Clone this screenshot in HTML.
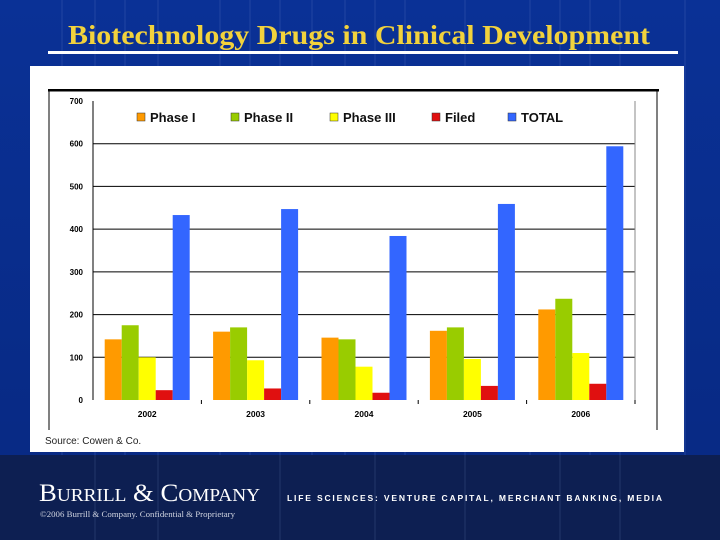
<!DOCTYPE html>
<html><head><meta charset="utf-8"><style>
body{margin:0;width:720px;height:540px;overflow:hidden;background:#0b2f8f;font-family:"Liberation Sans",sans-serif}
#slide{position:relative;width:720px;height:540px;background:linear-gradient(#0a3196,#082a85 80%)}
</style></head><body>
<div id="slide">
<svg width="720" height="540" style="position:absolute;left:0;top:0">
<g stroke="#3a5ab0" stroke-width="1" opacity="0.5">
<line x1="62" y1="0" x2="62" y2="540"/><line x1="95" y1="0" x2="95" y2="540"/><line x1="125" y1="0" x2="125" y2="540"/><line x1="158" y1="0" x2="158" y2="540"/><line x1="220" y1="0" x2="220" y2="540"/><line x1="250" y1="0" x2="250" y2="540"/><line x1="280" y1="0" x2="280" y2="540"/><line x1="312" y1="0" x2="312" y2="540"/><line x1="345" y1="0" x2="345" y2="540"/><line x1="375" y1="0" x2="375" y2="540"/><line x1="405" y1="0" x2="405" y2="540"/><line x1="465" y1="0" x2="465" y2="540"/><line x1="530" y1="0" x2="530" y2="540"/><line x1="560" y1="0" x2="560" y2="540"/><line x1="590" y1="0" x2="590" y2="540"/><line x1="620" y1="0" x2="620" y2="540"/><line x1="685" y1="0" x2="685" y2="540"/>
</g>
<text x="68" y="44" textLength="582" lengthAdjust="spacingAndGlyphs" font-family="Liberation Serif,serif" font-weight="bold" font-size="27" fill="#f2d23c">Biotechnology Drugs in Clinical Development</text>
<rect x="48" y="51" width="630" height="3" fill="#fff"/>
<rect x="30" y="66" width="654" height="386" fill="#fff"/>
<rect x="48" y="89" width="611" height="2.5" fill="#000"/>
<line x1="49" y1="90" x2="49" y2="430" stroke="#000"/>
<line x1="657" y1="90" x2="657" y2="430" stroke="#000"/>
<g id="chart"></g>
<text x="45" y="444" font-size="10" fill="#222">Source:  Cowen &amp; Co.</text>
<rect x="0" y="455" width="720" height="85" fill="#0d1f52"/>
<g stroke="#34487a" stroke-width="1" opacity="0.6"><line x1="95" y1="455" x2="95" y2="540"/><line x1="158" y1="455" x2="158" y2="540"/><line x1="280" y1="455" x2="280" y2="540"/><line x1="375" y1="455" x2="375" y2="540"/><line x1="465" y1="455" x2="465" y2="540"/><line x1="560" y1="455" x2="560" y2="540"/><line x1="620" y1="455" x2="620" y2="540"/></g>
<text x="39" y="501" textLength="221" lengthAdjust="spacingAndGlyphs" font-family="Liberation Serif,serif" font-size="25" fill="#fff">B<tspan font-size="18">URRILL</tspan> &amp; C<tspan font-size="18">OMPANY</tspan></text>
<text x="40" y="517" textLength="195" lengthAdjust="spacingAndGlyphs" font-family="Liberation Serif,serif" font-size="8" fill="#d0d4e0">©2006 Burrill &amp; Company. Confidential &amp; Proprietary</text>
<text x="287" y="501" textLength="375" lengthAdjust="spacing" font-size="8.5" font-weight="bold" fill="#fff">LIFE SCIENCES: VENTURE CAPITAL, MERCHANT BANKING, MEDIA</text>
</svg>
</div>
<script>
const categories=["2002","2003","2004","2005","2006"];
const seriesNames=["Phase I","Phase II","Phase III","Filed","TOTAL"];
const phase1=[142,160,146,162,212];
const phase2=[175,170,142,170,237];
const phase3=[100,93,78,96,110];
const filed=[23,27,17,33,38];
const total=[433,447,384,459,594];
const yTicks=[0,100,200,300,400,500,600,700];
const colors=["#ff9a00","#99cc00","#ffff00","#e01010","#3366ff"];
const series=[phase1,phase2,phase3,filed,total];
const NS="http://www.w3.org/2000/svg";
const g=document.getElementById('chart');
const x0=93,x1=635,y0=400,yTop=101;
const y=v=>y0-(v/700)*(y0-yTop);
const bw=(x1-x0)/categories.length;
function mk(t,a){const e=document.createElementNS(NS,t);for(const k in a)e.setAttribute(k,a[k]);g.appendChild(e);return e;}
yTicks.forEach(t=>{
  if(t>0&&t<700){const l=mk('line',{x1:x0,x2:x1,y1:y(t),y2:y(t),stroke:'#000','stroke-width':1});
  
  }
  const tx=mk('text',{x:83,y:y(t)+3,'text-anchor':'end','font-size':8,'font-weight':'bold',fill:'#000'});
  tx.textContent=t;
  
  
});
const ax=mk('line',{x1:x0,x2:x0,y1:yTop,y2:y0,stroke:'#000'});


const ax2=mk('line',{x1:x1,x2:x1,y1:yTop,y2:y0,stroke:'#888'});


const bar=17;
categories.forEach((c,i)=>{
  const gx=x0+i*bw;
  const start=gx+(bw-bar*5)/2;
  series.forEach((s,j)=>{
    const r=mk('rect',{x:start+j*bar,y:y(s[i]),width:bar,height:y0-y(s[i]),fill:colors[j]});
    
    
  });
  const tk=mk('line',{x1:gx+bw,x2:gx+bw,y1:y0,y2:y0+4,stroke:'#000'});
  
  
  const lb=mk('text',{x:gx+bw/2,y:y0+17,'text-anchor':'middle','font-size':8.5,'font-weight':'bold',fill:'#000'});
  lb.textContent=c;
  
  
});
const lx=[137,231,330,432,508];
seriesNames.forEach((n,j)=>{
  const s=mk('rect',{x:lx[j],y:113,width:8,height:8,fill:colors[j],stroke:'#333','stroke-width':0.5});
  
  
  const t=mk('text',{x:lx[j]+13,y:122,'font-size':13,'font-weight':'bold',fill:'#111'});
  t.textContent=n;
  
  
});
</script>
</body></html>
